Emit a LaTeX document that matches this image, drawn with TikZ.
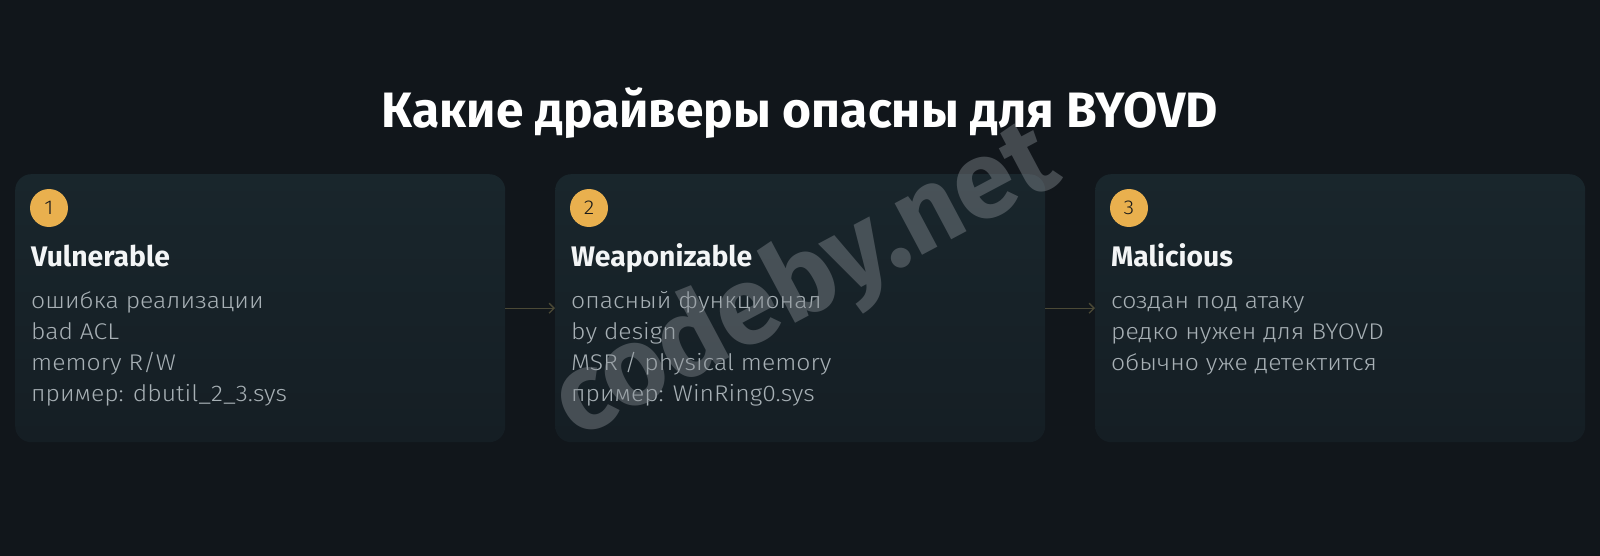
\documentclass[tikz,border=0pt]{standalone}
\usepackage{fontspec}
\setmainfont{Fira Sans}
\newfontfamily\bodyfont[FakeStretch=1.09]{Fira Sans Light}
\usetikzlibrary{arrows.meta}
\definecolor{bg}{HTML}{11161B}
\definecolor{cardtop}{HTML}{19262C}
\definecolor{cardbot}{HTML}{151E24}
\definecolor{badgecol}{HTML}{E9B04E}
\definecolor{badgetxt}{HTML}{1A1A1A}
\definecolor{titlecol}{HTML}{F3F5F6}
\definecolor{bodycol}{HTML}{A7B0B5}
\definecolor{arrowcol}{HTML}{4B4936}
\definecolor{wmcol}{HTML}{8A9096}
\begin{document}
\begin{tikzpicture}[x=1pt,y=-1pt,
  card/.style={rounded corners=16pt, top color=cardtop, bottom color=cardbot, draw=none,
    minimum width=490pt, minimum height=268pt, anchor=north west, inner sep=0pt},
  badge/.style={circle, fill=badgecol, minimum size=38pt, inner sep=0pt, text=badgetxt,
    font=\bodyfont\fontsize{20}{20}\selectfont},
  ctitle/.style={anchor=base west, inner sep=0pt, text=titlecol, font=\fontsize{28.3}{28}\selectfont\bfseries},
  cbody/.style={anchor=base west, inner sep=0pt, text=bodycol, font=\bodyfont\fontsize{22.7}{23}\selectfont},
  link/.style={draw=arrowcol, line width=1.3pt, -{Straight Barb[length=5pt,width=10pt]}}
]
\fill[bg] (0,0) rectangle (1600,556);

\node[anchor=base, inner sep=0pt, text=white, font=\fontsize{49.7}{50}\selectfont\bfseries] (title) at (800,128) {Какие драйверы опасны для BYOVD};

% cards
\node[card] (card1) at (15,174) {};
\node[card] (card2) at (555,174) {};
\node[card] (card3) at (1095,174) {};

\draw[link] (card1.east) -- (card2.west);
\draw[link] (card2.east) -- (card3.west);

% card 1
\node[badge] (b1) at (49,208) {1};
\node[ctitle] (t1) at (31,266) {Vulnerable};
\node[cbody] (c1a) at (31,308) {ошибка реализации};
\node[cbody] (c1b) at (31,339) {bad ACL};
\node[cbody] (c1c) at (31,370) {memory R/W};
\node[cbody] (c1d) at (31,401) {пример: dbutil\_2\_3.sys};

% card 2
\node[badge] (b2) at (589,208) {2};
\node[ctitle] (t2) at (571,266) {Weaponizable};
\node[cbody] (c2a) at (571,308) {опасный функционал};
\node[cbody] (c2b) at (571,339) {by design};
\node[cbody] (c2c) at (571,370) {MSR / physical memory};
\node[cbody] (c2d) at (571,401) {пример: WinRing0.sys};

% card 3
\node[badge] (b3) at (1129,208) {3};
\node[ctitle] (t3) at (1111,266) {Malicious};
\node[cbody] (c3a) at (1111,308) {создан под атаку};
\node[cbody] (c3b) at (1111,339) {редко нужен для BYOVD};
\node[cbody] (c3c) at (1111,370) {обычно уже детектится};

% watermark
\node[rotate=28, inner sep=0pt, text=wmcol, opacity=0.42, font=\fontsize{110}{110}\selectfont\bfseries] (wm) at (806,284) {codeby.net};
\end{tikzpicture}
\end{document}
